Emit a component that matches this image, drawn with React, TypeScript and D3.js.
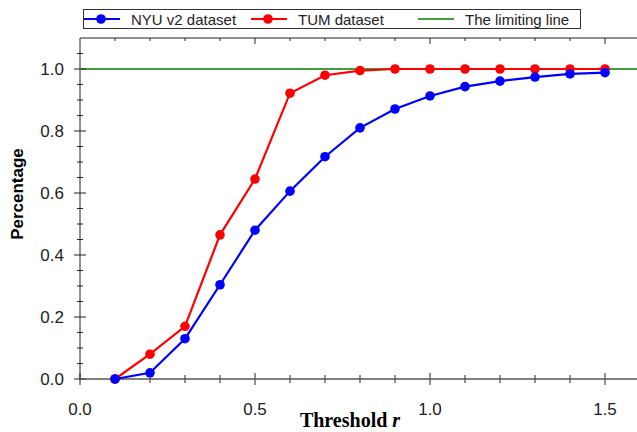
import * as d3 from "d3";
import { useEffect, useRef } from "react";

const width = 637;
const height = 432;
const margin = { top: 38, bottom: 53, left: 80 };

// threshold values r
const thresholds = [0.1, 0.2, 0.3, 0.4, 0.5, 0.6, 0.7, 0.8, 0.9, 1.0, 1.1, 1.2, 1.3, 1.4, 1.5];
const nyuValues = [0.0, 0.02, 0.13, 0.304, 0.48, 0.606, 0.717, 0.81, 0.871, 0.913, 0.943, 0.961, 0.974, 0.984, 0.988];
const tumValues = [0.0, 0.08, 0.17, 0.465, 0.645, 0.922, 0.98, 0.995, 1.0, 1.0, 1.0, 1.0, 1.0, 1.0, 1.0];
const limitValue = 1.0;

const xTickLabels = [0, 0.5, 1.0, 1.5];
const yTickLabels = [0, 0.2, 0.4, 0.6, 0.8, 1.0];

const legendItems = [
  { label: "NYU v2 dataset", color: "#0000ff", marker: true },
  { label: "TUM dataset", color: "#ff0000", marker: true },
  { label: "The limiting line", color: "#008000", marker: false },
];

export default function App() {
  const svgRef = useRef<SVGSVGElement>(null);

  useEffect(() => {
    const svg = d3.select(svgRef.current);
    svg.selectAll("*").remove();

    const x = d3.scaleLinear().domain([0, 1.6]).range([margin.left, margin.left + 560]);
    const y = d3.scaleLinear().domain([0, 1.1]).range([height - margin.bottom, margin.top]);

    const x0 = x(0);
    const y0 = y(0);
    const yTop = y(1.1);
    const axisColor = "#222";
    const sans = "Liberation Sans, Arial, sans-serif";

    // plot frame (left + top)
    svg.append("line").attr("x1", x0).attr("x2", width).attr("y1", yTop).attr("y2", yTop)
      .attr("stroke", axisColor).attr("stroke-width", 1);
    svg.append("line").attr("x1", x0).attr("x2", x0).attr("y1", yTop).attr("y2", y0)
      .attr("stroke", axisColor).attr("stroke-width", 1);

    // limiting line
    svg.append("line")
      .attr("x1", x0 + 1).attr("x2", width)
      .attr("y1", y(limitValue)).attr("y2", y(limitValue))
      .attr("stroke", "#008000").attr("stroke-width", 1.5);

    // x axis ticks (bottom crossing, top inward)
    const xMinor = d3.range(0, 16).map(i => i / 10);
    xMinor.forEach(v => {
      const major = Math.round(v * 10) % 5 === 0;
      const len = major ? 6 : 4;
      svg.append("line").attr("x1", x(v)).attr("x2", x(v))
        .attr("y1", y0 - len).attr("y2", y0 + len)
        .attr("stroke", axisColor).attr("stroke-width", 1);
      if (v > 0) {
        svg.append("line").attr("x1", x(v)).attr("x2", x(v))
          .attr("y1", yTop).attr("y2", yTop + (major ? 6 : 3))
          .attr("stroke", axisColor).attr("stroke-width", 1);
      }
    });

    // y axis ticks
    const yMinor = d3.range(0, 22).map(i => i * 0.05);
    yMinor.forEach(v => {
      const major = Math.round(v * 100) % 20 === 0;
      const len = major ? 6 : 3;
      svg.append("line").attr("x1", x0 - len).attr("x2", x0 + len)
        .attr("y1", y(v)).attr("y2", y(v))
        .attr("stroke", axisColor).attr("stroke-width", 1);
    });

    // x axis line drawn over ticks
    svg.append("line").attr("x1", x0).attr("x2", width).attr("y1", y0).attr("y2", y0)
      .attr("stroke", "#555").attr("stroke-width", 1.5);

    // tick labels
    svg.append("g").selectAll("text").data(xTickLabels).join("text")
      .attr("x", d => x(d)).attr("y", y0 + 36)
      .attr("text-anchor", "middle")
      .style("font-family", sans)
      .style("font-size", "17px").style("fill", "#222")
      .text(d => d3.format(".1f")(d));

    svg.append("g").selectAll("text").data(yTickLabels).join("text")
      .attr("x", x0 - 16).attr("y", d => y(d) + 6)
      .attr("text-anchor", "end")
      .style("font-family", sans)
      .style("font-size", "17px").style("fill", "#222")
      .text(d => d3.format(".1f")(d));

    // axis titles
    svg.append("text")
      .attr("transform", `translate(23, 194) rotate(-90)`)
      .attr("text-anchor", "middle")
      .style("font-family", sans)
      .style("font-size", "17px").style("font-weight", "bold")
      .text("Percentage");

    const xt = svg.append("text")
      .attr("x", 350).attr("y", 427)
      .attr("text-anchor", "middle")
      .style("font-family", "Liberation Serif, Times New Roman, serif")
      .style("font-size", "20px").style("font-weight", "bold");
    xt.append("tspan").text("Threshold ");
    xt.append("tspan").style("font-style", "italic").text("r");

    // series
    const line = d3.line<[number, number]>().x(d => x(d[0])).y(d => y(d[1]));
    const drawSeries = (vals: number[], color: string) => {
      const pts = thresholds.map((t, i) => [t, vals[i]] as [number, number]);
      svg.append("path").datum(pts).attr("d", line)
        .attr("fill", "none").attr("stroke", color).attr("stroke-width", 2.2);
      svg.append("g").selectAll("circle").data(pts).join("circle")
        .attr("cx", d => x(d[0])).attr("cy", d => y(d[1])).attr("r", 4.8)
        .attr("fill", color);
    };
    drawSeries(tumValues, "#ff0000");
    drawSeries(nyuValues, "#0000ff");

    // legend
    const lg = svg.append("g");
    lg.append("rect").attr("x", 83.5).attr("y", 9.5).attr("width", 497).attr("height", 19)
      .attr("fill", "white").attr("stroke", "#333").attr("stroke-width", 1);
    const legendX = [84, 251, 418];
    legendItems.forEach((item, i) => {
      const lx = legendX[i];
      lg.append("line").attr("x1", lx).attr("x2", lx + 36).attr("y1", 19).attr("y2", 19)
        .attr("stroke", item.color).attr("stroke-width", item.marker ? 2.2 : 1.5);
      if (item.marker) {
        lg.append("circle").attr("cx", lx + 17).attr("cy", 19).attr("r", 4.8).attr("fill", item.color);
      }
      lg.append("text").attr("x", lx + 47).attr("y", 24.5)
        .style("font-family", sans)
        .style("font-size", "15px").style("fill", "#222")
        .text(item.label);
    });
  }, []);

  return (
    <div style={{ position: "absolute", left: 0, top: 0 }}>
      <svg ref={svgRef} width={width} height={height} style={{ display: "block", background: "white" }} />
    </div>
  );
}
